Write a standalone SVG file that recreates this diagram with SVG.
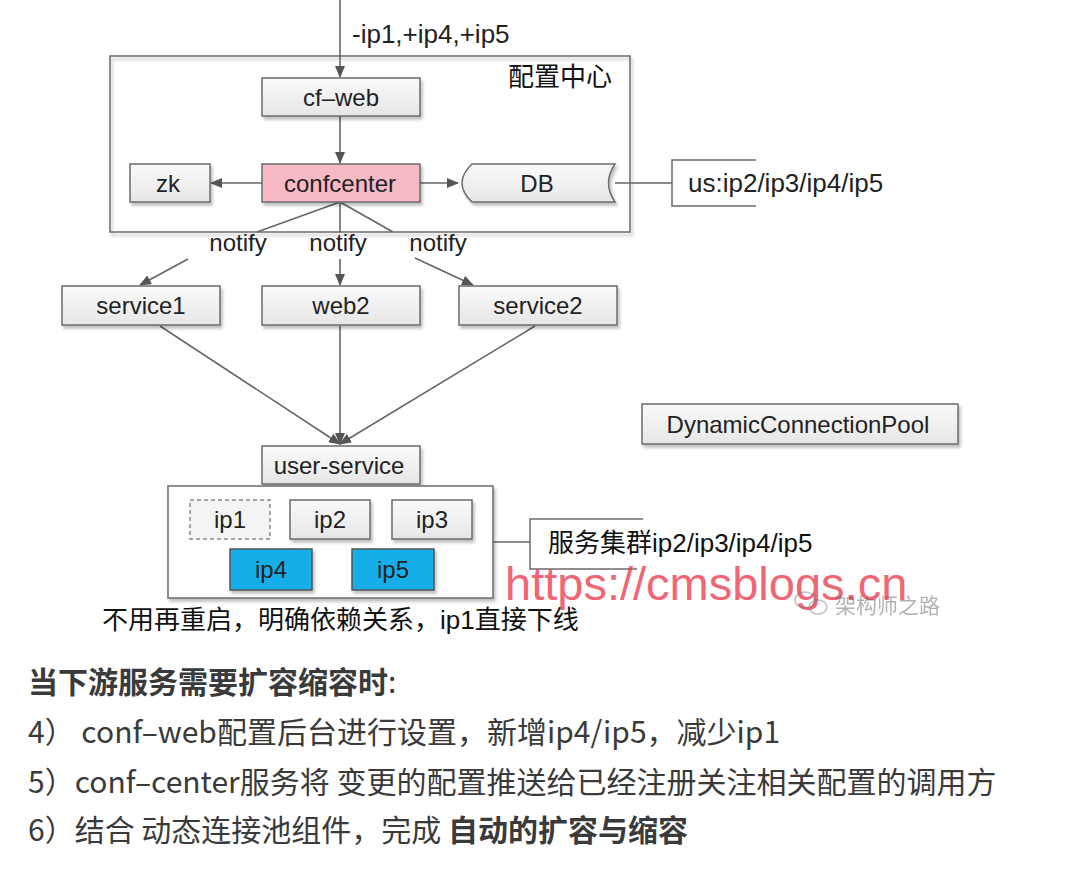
<svg xmlns="http://www.w3.org/2000/svg" width="1068" height="890" viewBox="0 0 1068 890">
<style>
.box{fill:url(#g);stroke:#6b6b6b;stroke-width:1.5}
.frame{fill:none;stroke:#6b6b6b;stroke-width:1.5}
.t{font-family:"Liberation Sans",Arial,sans-serif;font-size:24px;fill:#222;text-anchor:middle;dominant-baseline:central}
.tl{font-family:"Liberation Sans","Noto Sans CJK SC",sans-serif;font-size:26px;fill:#222;dominant-baseline:central}
.cn{font-family:"Liberation Sans","Noto Sans CJK SC",sans-serif;font-size:26px;fill:#111;dominant-baseline:central}
.ln{stroke:#666;stroke-width:1.6;fill:none}
.body{font-family:"Noto Sans CJK SC",sans-serif;font-size:30px;fill:#3a3a3a;dominant-baseline:central}
</style>
<defs>
<linearGradient id="g" x1="0" y1="0" x2="0" y2="1"><stop offset="0" stop-color="#fafafa"/><stop offset="1" stop-color="#e6e6e6"/></linearGradient>
<filter id="sh" x="-10%" y="-20%" width="130%" height="160%"><feDropShadow dx="2" dy="3" stdDeviation="1.5" flood-color="#000" flood-opacity="0.25"/></filter>
<marker id="a" viewBox="0 0 12 10" refX="11" refY="5" markerWidth="12" markerHeight="10" markerUnits="userSpaceOnUse" orient="auto"><path d="M0,0 L12,5 L0,10 Z" fill="#555"/></marker>
</defs>
<rect width="1068" height="890" fill="#fff"/>

<g id="config-center">
<rect class="frame" x="110" y="56" width="520" height="176" filter="url(#sh)"/>
<text class="cn" x="508" y="77" font-size="25">配置中心</text>
</g>

<g id="connectors">
<line class="ln" x1="340" y1="0" x2="340" y2="77" marker-end="url(#a)"/>
<line class="ln" x1="340" y1="116" x2="340" y2="163" marker-end="url(#a)"/>
<line class="ln" x1="262" y1="183" x2="211" y2="183" marker-end="url(#a)"/>
<line class="ln" x1="420" y1="183" x2="458" y2="183" marker-end="url(#a)"/>
<line class="ln" x1="615" y1="183" x2="672" y2="183"/>
<line class="ln" x1="340" y1="202" x2="257" y2="232"/>
<line class="ln" x1="340" y1="202" x2="340" y2="232"/>
<line class="ln" x1="340" y1="202" x2="393" y2="232"/>
<line class="ln" x1="188" y1="259" x2="140" y2="285" marker-end="url(#a)"/>
<line class="ln" x1="340" y1="259" x2="340" y2="285" marker-end="url(#a)"/>
<line class="ln" x1="415" y1="258" x2="473" y2="285" marker-end="url(#a)"/>
<line class="ln" x1="160" y1="326" x2="340" y2="444" marker-end="url(#a)"/>
<line class="ln" x1="340" y1="326" x2="340" y2="444" marker-end="url(#a)"/>
<line class="ln" x1="535" y1="326" x2="340" y2="444" marker-end="url(#a)"/>
<line class="ln" x1="493" y1="542" x2="530" y2="542"/>
<text class="tl" x="352" y="34" font-size="26.5">-ip1,+ip4,+ip5</text>
<text class="t" x="238" y="242" font-size="25">notify</text>
<text class="t" x="338" y="242" font-size="25">notify</text>
<text class="t" x="438" y="242" font-size="25">notify</text>
</g>

<g id="cf-web"><rect class="box" x="262" y="78" width="158" height="38" filter="url(#sh)"/><text class="t" x="341" y="97">cf–web</text></g>
<g id="confcenter"><rect x="262" y="164" width="158" height="38" fill="#f7b9c6" stroke="#6b6b6b" stroke-width="1.5" filter="url(#sh)"/><text class="t" x="340" y="183" font-size="24.5">confcenter</text></g>
<g id="zk"><rect class="box" x="130" y="164" width="80" height="38" filter="url(#sh)"/><text class="t" x="168" y="183">zk</text></g>
<g id="db"><path class="box" d="M472,164 L615,164 Q602,183 615,202 L472,202 Q452,183 472,164 Z" filter="url(#sh)"/><text class="t" x="537" y="183">DB</text></g>
<g id="us-note"><path class="frame" d="M756,160 L672,160 L672,206 L756,206"/><text class="tl" x="688" y="183">us:ip2/ip3/ip4/ip5</text></g>

<g id="service1"><rect class="box" x="62" y="286" width="158" height="39" filter="url(#sh)"/><text class="t" x="141" y="305">service1</text></g>
<g id="web2"><rect class="box" x="262" y="286" width="158" height="39" filter="url(#sh)"/><text class="t" x="341" y="305">web2</text></g>
<g id="service2"><rect class="box" x="459" y="286" width="158" height="39" filter="url(#sh)"/><text class="t" x="538" y="305">service2</text></g>

<g id="dynamic-pool"><rect class="box" x="642" y="404" width="316" height="40" filter="url(#sh)"/><text class="t" x="798" y="424" font-size="26">DynamicConnectionPool</text></g>

<g id="user-service"><rect class="box" x="262" y="446" width="158" height="38" filter="url(#sh)"/><text class="t" x="339" y="465">user-service</text></g>

<g id="cluster">
<rect x="168" y="486" width="325" height="112" fill="#fff" stroke="#6b6b6b" stroke-width="1.5" filter="url(#sh)"/>
<g id="ip1"><rect x="190" y="500" width="80" height="39" fill="#f4f4f4" stroke="#888" stroke-width="1.5" stroke-dasharray="4,3"/><text class="t" x="230" y="519">ip1</text></g>
<g id="ip2"><rect class="box" x="290" y="500" width="80" height="39" filter="url(#sh)"/><text class="t" x="330" y="519">ip2</text></g>
<g id="ip3"><rect class="box" x="392" y="500" width="80" height="39" filter="url(#sh)"/><text class="t" x="432" y="519">ip3</text></g>
<g id="ip4"><rect x="230" y="549" width="82" height="41" fill="#16aee8" stroke="#555" stroke-width="1.5" filter="url(#sh)"/><text class="t" x="271" y="569" fill="#1a3a66">ip4</text></g>
<g id="ip5"><rect x="352" y="549" width="82" height="41" fill="#16aee8" stroke="#555" stroke-width="1.5" filter="url(#sh)"/><text class="t" x="393" y="569" fill="#1a3a66">ip5</text></g>
</g>

<g id="cluster-note"><path class="frame" d="M643,519 L530,519 L530,569 L637,569"/><text class="cn" x="548" y="543">服务集群ip2/ip3/ip4/ip5</text></g>

<text x="505" y="600" font-family="Liberation Sans,Arial,sans-serif" font-size="47" fill="#ee3a4e" fill-opacity="0.8">https://cmsblogs.cn</text>
<g id="wm" opacity="0.45">
<ellipse cx="805" cy="600" rx="10" ry="8" fill="none" stroke="#777" stroke-width="1.5"/>
<ellipse cx="818" cy="607" rx="9" ry="7" fill="none" stroke="#777" stroke-width="1.5"/>
<text x="835" y="604" font-family="Noto Sans CJK SC,sans-serif" font-size="21" fill="#555" dominant-baseline="central">架构师之路</text>
</g>

<text class="cn" x="102" y="620">不用再重启，明确依赖关系，ip1直接下线</text>

<text class="body" x="28" y="680" font-weight="bold">当下游服务需要扩容缩容时<tspan font-weight="normal">:</tspan></text>
<text class="body" x="28" y="730">4）  conf–web配置后台进行设置，新增ip4/ip5，减少ip1</text>
<text class="body" x="28" y="780">5）conf–center服务将 变更的配置推送给已经注册关注相关配置的调用方</text>
<text class="body" x="28" y="828">6）结合 动态连接池组件，完成 <tspan font-weight="bold">自动的扩容与缩容</tspan></text>
</svg>
